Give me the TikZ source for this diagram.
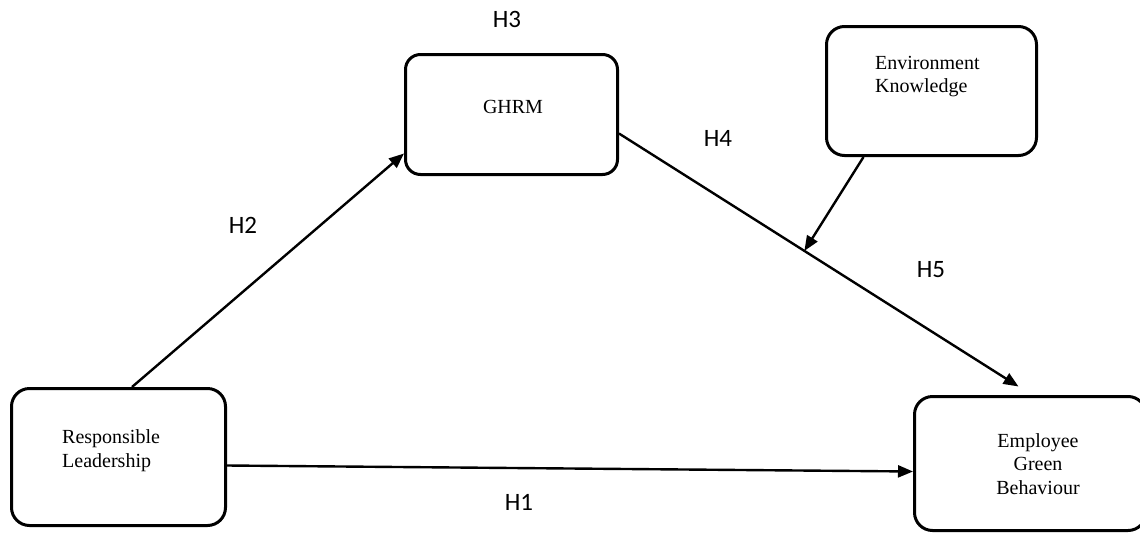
\documentclass[tikz,border=0pt]{standalone}
\usepackage{fontspec}
\setmainfont{Liberation Serif}
\newfontfamily\labelfont{Carlito}
\usetikzlibrary{arrows.meta,calc}

\begin{document}
\begin{tikzpicture}[x=1pt,y=-1pt,
  box/.style={draw,line width=3pt,rounded corners=18pt,inner sep=0pt},
  conn/.style={line width=2.4pt,-{Triangle[length=15pt,width=12pt]}},
  hyp/.style={font=\labelfont\fontsize{25}{29}\selectfont,inner sep=0pt},
  boxtext/.style={font=\fontsize{20}{23.3}\selectfont,inner sep=0pt}]

  % page frame
  \useasboundingbox (0,0) rectangle (1140,533);

  % construct boxes
  \node[box,minimum width=214pt,minimum height=137pt] (rl) at (118.5,457) {};
  \node[box,minimum width=212pt,minimum height=120pt,rounded corners=15pt] (ghrm) at (511.5,114.5) {};
  \node[box,minimum width=210pt,minimum height=129pt] (ek) at (931.5,91) {};
  \node[box,minimum width=231.5pt,minimum height=134pt] (egb) at (1030.25,463.5) {};

  % box captions
  \node[boxtext,align=left,anchor=west] (rltxt) at (62,450.8) {Responsible\\Leadership};
  \node[boxtext,anchor=base] (ghrmtxt) at (513,113) {GHRM};
  \node[boxtext,align=left,anchor=west] (ektxt) at (875,76.8) {Environment\\Knowledge};
  \node[boxtext,align=center] (egbtxt) at (1038,464) {Employee\\Green\\Behaviour};

  % paths between constructs
  \coordinate (h2s) at ([xshift=122pt]rl.north west);
  \coordinate (h2e) at ([yshift=-100.5pt]ghrm.north west);
  \draw[conn] (h2s) -- (h2e);

  \coordinate (m1) at ([yshift=-80.5pt]ghrm.north east);
  \coordinate (m2) at ([xshift=105.5pt,yshift=8.5pt]egb.north west);
  \draw[conn] (m1) -- (m2);

  \coordinate (mod) at ($(m1)!0.464!(m2)$);
  \coordinate (ekout) at ([xshift=38.5pt]ek.south west);
  \draw[conn] (ekout) -- (mod);

  \coordinate (h1s) at ([yshift=-78.5pt]rl.north east);
  \coordinate (h1e) at ([yshift=-76.5pt]egb.north west);
  \draw[conn] (h1s) -- (h1e);

  % hypothesis labels
  \node[hyp] (lh3) at (507,19.5) {H3};
  \node[hyp] (lh2) at (243,225) {H2};
  \node[hyp] (lh4) at (718,138.5) {H4};
  \node[hyp] (lh5) at (931,270) {H5};
  \node[hyp] (lh1) at (519,502) {H1};
\end{tikzpicture}
\end{document}
